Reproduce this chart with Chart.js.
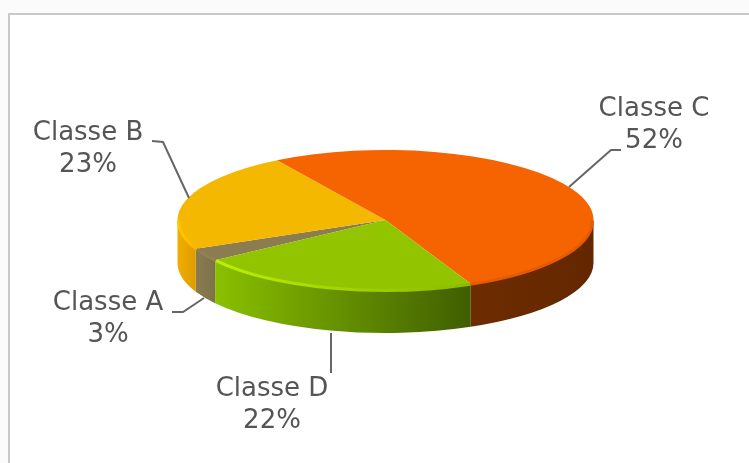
<!DOCTYPE html>
<html>
<head>
<meta charset="utf-8">
<script src="https://cdn.jsdelivr.net/npm/chart.js@4"></script>
<style>
  html, body { margin: 0; height: 100%; background: #fbfbfb; overflow: hidden; }
  #frame { position: absolute; left: 8px; top: 13px; width: 800px; height: 500px; background: #fff; border: 2px solid #c9c9c9; }
  #pie3d { position: absolute; left: 0; top: 0; filter: blur(0.7px); }
</style>
</head>
<body>
<div id="frame"></div>
<canvas id="pie3d" width="749" height="463"></canvas>
<script>
const labels = ['Classe A', 'Classe B', 'Classe C', 'Classe D'];
const values = [3, 23, 52, 22];
const topColors = ['#8b7d50', '#f5b800', '#f56400', '#92c400'];

// parede lateral: cor da esquerda e da direita
const wallColors = [['#8a7c50', '#7d7148'], ['#f0ae00', '#e09c00'], ['#6e2c00', '#632700'], ['#8ac000', '#3f5e00']];
const rimColors = [['#8f8154', '#8f8154'], ['#ffc800', '#f5b800'], ['#e65a00', '#e65a00'], ['#bcf000', '#8cba00']];

// posição dos textos e das linhas de chamada
const labelPos = [[108, 303], [88, 133], [654, 109], [272, 389]];
const leaders = [
  [[172, 312], [183, 312], [204, 298]],
  [[152, 141], [163, 142], [189, 198]],
  [[621, 150], [611, 150], [569, 187]],
  [[331, 373], [331, 333]]
];

const squash = 70 / 208;
const depth = 43;

function frontParts(s, e) {
  // trechos do arco que ficam na frente (0 a 180 graus)
  const parts = [];
  const full = Math.PI * 2;
  for (let k = -1; k <= 2; k++) {
    const a = Math.max(s, k * full);
    const b = Math.min(e, k * full + Math.PI);
    if (b > a) parts.push([a, b]);
  }
  return parts;
}

const pie3d = {
  id: 'pie3d',
  beforeDatasetsDraw(chart) {
    const ctx = chart.ctx;
    const arcs = chart.getDatasetMeta(0).data;
    arcs.forEach((arc, i) => {
      const r = arc.outerRadius, ry = r * squash;
      frontParts(arc.startAngle, arc.endAngle).forEach(([a, b]) => {
        const x0 = arc.x + r * Math.cos(a), x1 = arc.x + r * Math.cos(b);
        const g = ctx.createLinearGradient(Math.min(x0, x1), 0, Math.max(x0, x1), 0);
        g.addColorStop(0, wallColors[i][0]);
        g.addColorStop(1, wallColors[i][1]);
        ctx.beginPath();
        ctx.ellipse(arc.x, arc.y, r, ry, 0, a, b);
        ctx.ellipse(arc.x, arc.y + depth, r, ry, 0, b, a, true);
        ctx.closePath();
        ctx.fillStyle = g;
        ctx.fill();
      });
    });
    const cy = arcs[0].y;
    ctx.save();
    ctx.translate(0, cy);
    ctx.scale(1, squash);
    ctx.translate(0, -cy);
  },
  afterDatasetsDraw(chart) {
    const ctx = chart.ctx;
    ctx.restore();
    const arcs = chart.getDatasetMeta(0).data;
    arcs.forEach((arc, i) => {
      const r = arc.outerRadius, ry = r * squash;
      frontParts(arc.startAngle, arc.endAngle).forEach(([a, b]) => {
        const x0 = arc.x + r * Math.cos(a), x1 = arc.x + r * Math.cos(b);
        const g = ctx.createLinearGradient(Math.min(x0, x1), 0, Math.max(x0, x1), 0);
        g.addColorStop(0, rimColors[i][0]);
        g.addColorStop(1, rimColors[i][1]);
        ctx.beginPath();
        ctx.ellipse(arc.x, arc.y + 0.5, r - 1, ry, 0, a, b);
        ctx.strokeStyle = g;
        ctx.lineWidth = 3;
        ctx.stroke();
      });
    });

    ctx.strokeStyle = '#666';
    ctx.lineWidth = 2;
    leaders.forEach(pts => {
      ctx.beginPath();
      pts.forEach((p, j) => j ? ctx.lineTo(p[0], p[1]) : ctx.moveTo(p[0], p[1]));
      ctx.stroke();
    });

    ctx.fillStyle = '#555';
    ctx.font = '26px "DejaVu Sans"';
    ctx.textAlign = 'center';
    ctx.textBaseline = 'middle';
    labels.forEach((name, i) => {
      ctx.fillText(name, labelPos[i][0], labelPos[i][1]);
      ctx.fillText(values[i] + '%', labelPos[i][0], labelPos[i][1] + 32);
    });
  }
};

new Chart(document.getElementById('pie3d').getContext('2d'), {
  type: 'pie',
  data: {
    labels: labels,
    datasets: [{ data: values, backgroundColor: topColors, borderWidth: 0 }]
  },
  options: {
    responsive: false,
    animation: false,
    rotation: 235,
    layout: { padding: { left: 177, right: 155, top: 12, bottom: 35 } },
    plugins: { legend: { display: false }, tooltip: { enabled: false } }
  },
  plugins: [pie3d]
});
</script>
</body>
</html>
